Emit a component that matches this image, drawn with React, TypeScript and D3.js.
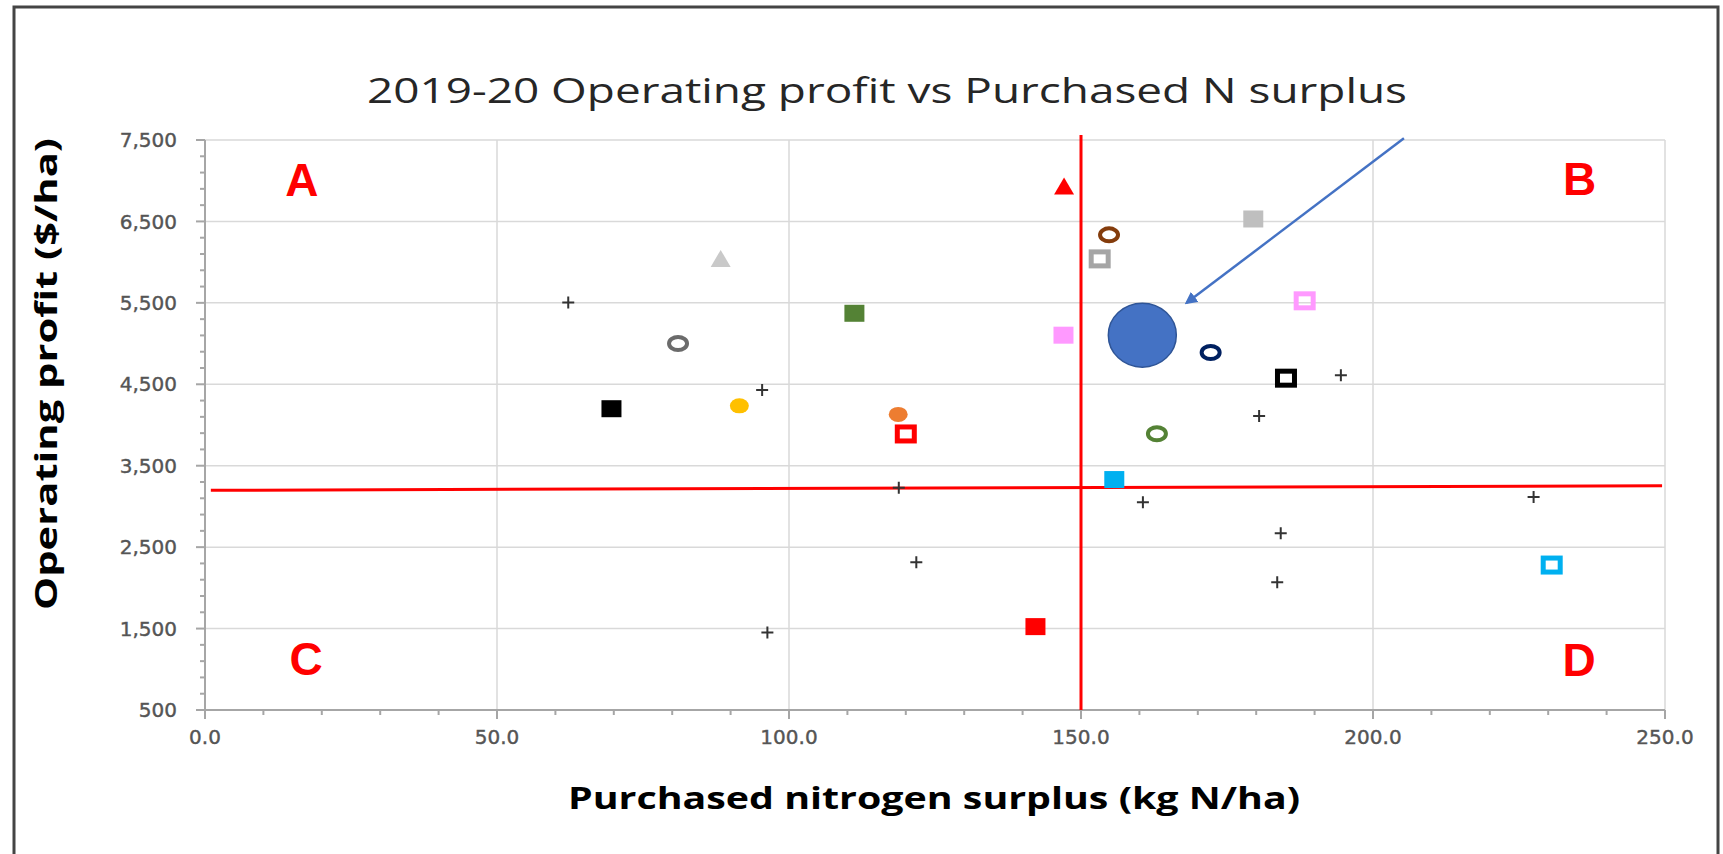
import * as d3 from 'd3';

const WIDTH = 1723;
const HEIGHT = 854;

// purchased N surplus (kg N/ha) and operating profit ($/ha) for the marked farms
const farmSurplus = [147.1, 154.8, 153.2, 88.3, 111.2, 81.0, 147.0, 160.5, 91.5, 69.6, 118.7, 120.0, 163.0, 155.7, 179.5, 188.3, 172.2, 185.1, 230.6, 142.2];
const farmProfit = [6930, 6335, 6040, 6040, 5372, 5000, 5103, 5103, 4235, 4200, 4130, 3890, 3893, 3330, 6530, 5525, 4890, 4575, 2280, 1524];
const farmShapes = ['triangle', 'ring', 'box', 'triangle', 'square', 'ring', 'square', 'bubble', 'dot', 'square', 'dot', 'box', 'ring', 'square', 'square', 'box', 'ring', 'box', 'box', 'square'];
const farmColours = ['#FF0000', '#843C0C', '#A5A5A5', '#C9C9C9', '#548235', '#6B6B6B', '#FF99FF', '#4472C4', '#FFC000', '#000000', '#ED7D31', '#FF0000', '#548235', '#00B0F0', '#BFBFBF', '#FF99FF', '#002060', '#000000', '#00B0F0', '#FF0000'];

// the rest of the group (plain + markers)
const otherSurplus = [62.2, 95.4, 118.8, 160.6, 184.2, 121.8, 183.6, 96.3, 227.5, 194.5, 180.5];
const otherProfit = [5505, 4430, 3230, 3050, 2672, 2315, 2070, 1453, 3117, 4610, 4110];

// quadrant dividers
const surplusThreshold = 150;
const profitLineX = [1, 249.5];
const profitLineY = [3198, 3254];

const quadrantNames = ['A', 'B', 'C', 'D'];
const quadrantX = [16.6, 235.4, 17.3, 235.3];
const quadrantY = [7010, 7030, 1130, 1118];

const arrowFrom = [205.3, 7520];
const arrowTo = [168.1, 5500];

const xTicks = [0, 50, 100, 150, 200, 250];
const yTicks = [500, 1500, 2500, 3500, 4500, 5500, 6500, 7500];

const x = d3.scaleLinear().domain([0, 250]).range([205, 1665]);
const y = d3.scaleLinear().domain([500, 7500]).range([710, 140]);

const xMinor = d3.range(0, 251, 10);
const yMinor = d3.range(500, 7501, 200);

function Marker({ shape, colour, cx, cy }: { shape: string; colour: string; cx: number; cy: number }) {
    switch (shape) {
        case 'square':
            return <rect x={cx - 10} y={cy - 8.5} width={20} height={17} fill={colour} />;
        case 'box':
            return <rect x={cx - 8.5} y={cy - 7} width={17} height={14} fill="none" stroke={colour} strokeWidth={5} />;
        case 'dot':
            return <ellipse cx={cx} cy={cy} rx={9.5} ry={7.5} fill={colour} />;
        case 'ring':
            return <ellipse cx={cx} cy={cy} rx={9} ry={6.5} fill="none" stroke={colour} strokeWidth={4} />;
        case 'triangle':
            return <path d={`M${cx},${cy - 9}L${cx + 10},${cy + 8}L${cx - 10},${cy + 8}Z`} fill={colour} />;
        case 'bubble':
            return <ellipse cx={cx} cy={cy} rx={34} ry={32} fill={colour} stroke="#2F5597" strokeWidth={1.5} />;
        default:
            return null;
    }
}

export default function App() {
    const fmtY = d3.format(',');
    const fmtX = d3.format('.1f');
    const [x0, x1] = x.range();
    const [y0, y1] = y.range();

    return (
        <svg
            width={WIDTH}
            height={HEIGHT}
            viewBox={`0 0 ${WIDTH} ${HEIGHT}`}
            style={{ position: 'absolute', left: 0, top: 0, display: 'block', background: '#fff' }}
        >
            <defs>
                <marker id="arrowhead" viewBox="0 0 10 10" refX={8} refY={5} markerWidth={5} markerHeight={5} orient="auto">
                    <path d="M0,0L10,5L0,10Z" fill="#4472C4" />
                </marker>
            </defs>

            <rect x={14} y={7} width={1704} height={852} fill="#fff" stroke="#444" strokeWidth={3} />

            <text
                x={887}
                y={103}
                textAnchor="middle"
                fontFamily="'Open Sans', sans-serif"
                fontSize={35}
                fill="#262626"
                textLength={1040}
                lengthAdjust="spacingAndGlyphs"
            >
                2019-20 Operating profit vs Purchased N surplus
            </text>

            {/* gridlines */}
            <g stroke="#d9d9d9" strokeWidth={1.5}>
                {yTicks.slice(1).map((t) => (
                    <line key={`gy${t}`} x1={x0} x2={x1} y1={y(t)} y2={y(t)} />
                ))}
                {xTicks.slice(1).map((t) => (
                    <line key={`gx${t}`} x1={x(t)} x2={x(t)} y1={y0} y2={y1} />
                ))}
            </g>

            {/* axes */}
            <g stroke="#a6a6a6" strokeWidth={2}>
                <line x1={x0} x2={x0} y1={y1} y2={y0} />
                <line x1={x0} x2={x1} y1={y0} y2={y0} />
                {yMinor.map((t) => (
                    <line key={`ty${t}`} x1={x0 - ((t - 500) % 1000 === 0 ? 9 : 5)} x2={x0} y1={y(t)} y2={y(t)} />
                ))}
                {xMinor.map((t) => (
                    <line key={`tx${t}`} x1={x(t)} x2={x(t)} y1={y0} y2={y0 + (t % 50 === 0 ? 9 : 5)} />
                ))}
            </g>

            <g fontFamily="'DejaVu Sans', sans-serif" fontSize={20} fill="#555" stroke="#555" strokeWidth={0.4}>
                {yTicks.map((t) => (
                    <text key={`ly${t}`} x={177} y={y(t)} dy="0.36em" textAnchor="end">
                        {fmtY(t)}
                    </text>
                ))}
                {xTicks.map((t) => (
                    <text key={`lx${t}`} x={x(t)} y={744} textAnchor="middle">
                        {fmtX(t)}
                    </text>
                ))}
            </g>

            <text
                x={934}
                y={809}
                textAnchor="middle"
                fontFamily="'Open Sans', sans-serif"
                fontWeight={700}
                fontSize={30}
                fill="#000"
                textLength={732}
                lengthAdjust="spacingAndGlyphs"
            >
                Purchased nitrogen surplus (kg N/ha)
            </text>
            <text
                transform="translate(57,374) rotate(-90)"
                textAnchor="middle"
                fontFamily="'Open Sans', sans-serif"
                fontWeight={700}
                fontSize={30}
                fill="#000"
                textLength={472}
                lengthAdjust="spacingAndGlyphs"
            >
                Operating profit ($/ha)
            </text>

            {/* quadrant dividers */}
            <g stroke="#FF0000" strokeWidth={3}>
                <line x1={x(surplusThreshold)} x2={x(surplusThreshold)} y1={y(500)} y2={y(7560)} />
                <line x1={x(profitLineX[0])} x2={x(profitLineX[1])} y1={y(profitLineY[0])} y2={y(profitLineY[1])} />
            </g>

            {quadrantNames.map((q, i) => (
                <text
                    key={q}
                    x={x(quadrantX[i])}
                    y={y(quadrantY[i])}
                    dy="0.36em"
                    textAnchor="middle"
                    fontFamily="'Liberation Sans', Arial, sans-serif"
                    fontWeight={700}
                    fontSize={46}
                    fill="#FF0000"
                >
                    {q}
                </text>
            ))}

            {otherSurplus.map((s, i) => {
                const cx = x(s);
                const cy = y(otherProfit[i]);
                return (
                    <path
                        key={`o${i}`}
                        d={`M${cx - 6},${cy}H${cx + 6}M${cx},${cy - 6}V${cy + 6}`}
                        stroke="#333"
                        strokeWidth={2}
                    />
                );
            })}

            {farmSurplus.map((s, i) => (
                <Marker key={`f${i}`} shape={farmShapes[i]} colour={farmColours[i]} cx={x(s)} cy={y(farmProfit[i])} />
            ))}

            <line
                x1={x(arrowFrom[0])}
                y1={y(arrowFrom[1])}
                x2={x(arrowTo[0])}
                y2={y(arrowTo[1])}
                stroke="#4472C4"
                strokeWidth={2.5}
                markerEnd="url(#arrowhead)"
            />
        </svg>
    );
}
